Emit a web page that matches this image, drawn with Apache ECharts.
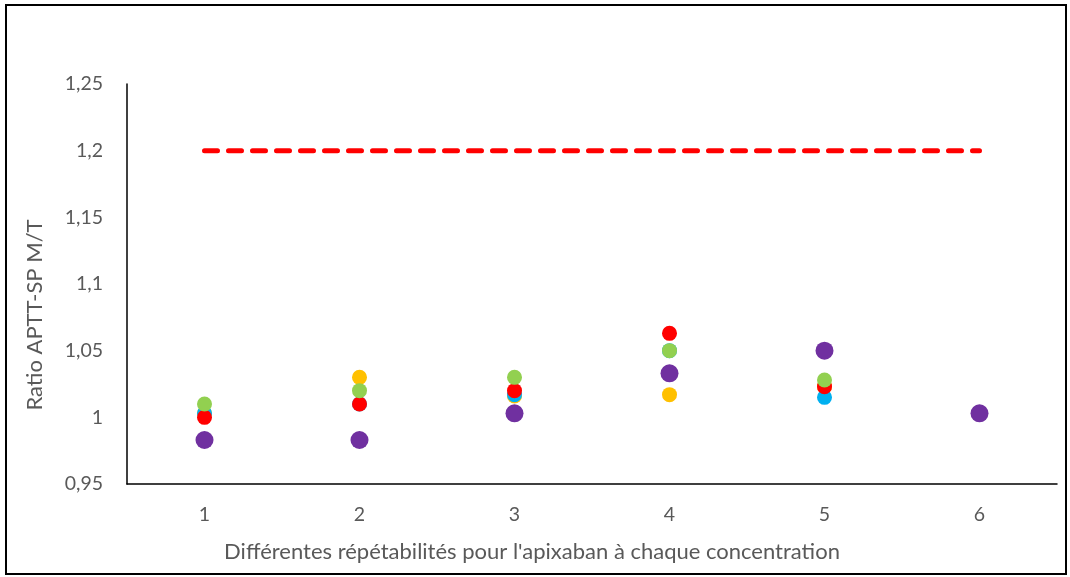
<!DOCTYPE html>
<html>
<head>
<meta charset="utf-8">
<script src="https://cdn.jsdelivr.net/npm/echarts@6/dist/echarts.min.js"></script>
<style>
html,body{margin:0;padding:0;background:#fff;}
#chart{width:1070px;height:577px;}
</style>
</head>
<body>
<div id="chart"></div>
<script>
const categories = ['1', '2', '3', '4', '5', '6'];
const yellowValues = [1.003, 1.030, 1.016, 1.017, 1.023, null];
const blueValues = [1.003, 1.010, 1.017, 1.050, 1.015, null];
const redValues = [1.000, 1.010, 1.020, 1.063, 1.023, null];
const greenValues = [1.010, 1.020, 1.030, 1.050, 1.028, null];
const purpleValues = [0.983, 0.983, 1.003, 1.033, 1.050, 1.003];
const thresholdValues = [1.2, 1.2, 1.2, 1.2, 1.2, 1.2];
const yMin = 0.95, yMax = 1.25, yStep = 0.05;
const xTitle = "Différentes répétabilités pour l'apixaban à chaque concentration";
const yTitle = 'Ratio APTT-SP M/T';

const FONT = 'Lato';
const chart = echarts.init(document.getElementById('chart'), null, {renderer: 'canvas'});

function dots(name, values, color, size) {
  return {
    name: name, type: 'scatter', data: values, symbol: 'circle', symbolSize: size,
    itemStyle: {color: color, opacity: 1}, silent: true
  };
}

chart.setOption({
  animation: false,
  backgroundColor: '#fff',
  grid: {left: 127, right: 13, top: 84, bottom: 93, containLabel: false},
  xAxis: {
    type: 'category', data: categories, boundaryGap: true,
    axisLine: {show: true, lineStyle: {color: '#000', width: 1.5}},
    axisTick: {show: false},
    axisLabel: {color: '#595959', fontFamily: FONT, fontSize: 19.5, margin: 21},
    splitLine: {show: false}
  },
  yAxis: {
    type: 'value', min: yMin, max: yMax, interval: yStep,
    axisLine: {show: true, lineStyle: {color: '#000', width: 1.5}},
    axisTick: {show: false},
    splitLine: {show: false},
    axisLabel: {
      color: '#595959', fontFamily: FONT, fontSize: 19.5, margin: 24,
      formatter: v => String(+v.toFixed(2)).replace('.', ',')
    }
  },
  graphic: [
    {type: 'rect', shape: {x: 6, y: 5, width: 1060, height: 569}, style: {fill: null, stroke: '#000', lineWidth: 2}, silent: true},
    {type: 'text', x: 532, y: 552, style: {text: xTitle, fill: '#595959', font: '22px ' + FONT, textAlign: 'center', textVerticalAlign: 'middle'}, silent: true},
    {type: 'text', x: 35, y: 315, rotation: Math.PI / 2, style: {text: yTitle, fill: '#595959', font: '22px ' + FONT, textAlign: 'center', textVerticalAlign: 'middle'}, silent: true}
  ],
  series: [
    {
      name: 'seuil', type: 'line', data: thresholdValues, symbol: 'none', silent: true,
      lineStyle: {color: '#FF0000', width: 5, type: [13, 11], cap: 'round'}
    },
    dots('s1', yellowValues, '#FFC000', 15),
    dots('s2', blueValues, '#00B0F0', 15),
    dots('s3', redValues, '#FF0000', 15),
    dots('s4', greenValues, '#92D050', 15),
    dots('s5', purpleValues, '#7030A0', 18)
  ]
});
</script>
</body>
</html>
